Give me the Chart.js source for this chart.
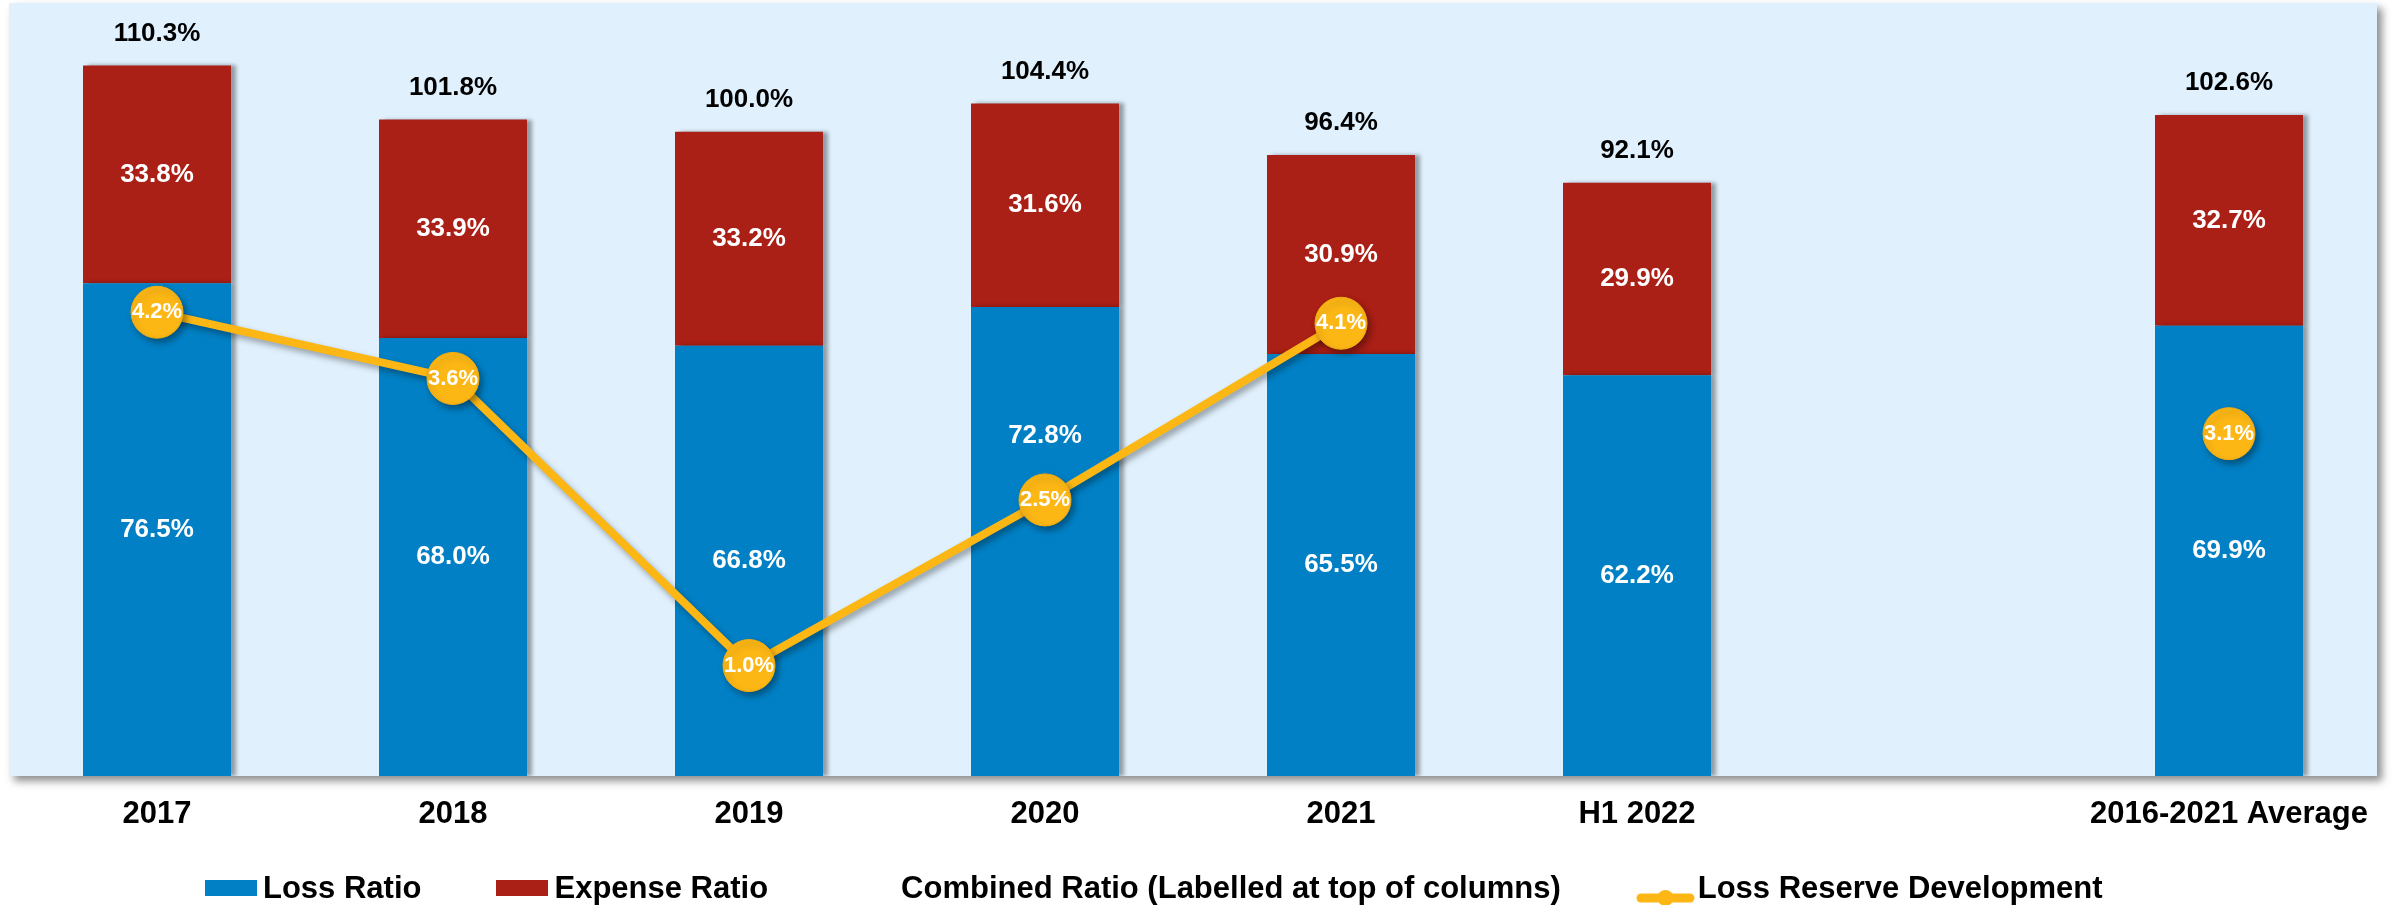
<!DOCTYPE html>
<html lang="en">
<head>
<meta charset="UTF-8">
<title>Combined Ratio</title>
<script src="https://cdn.jsdelivr.net/npm/chart.js@4.4.1/dist/chart.umd.min.js"></script>
<style>
  body { margin: 0; background: #fff; }
  #wrap { position: relative; width: 2397px; height: 905px; }
  #legend {
    position: absolute; left: 205px; top: 870px; height: 36px;
    display: flex; align-items: center; gap: 75px;
    font: bold 31px 'Liberation Sans', Arial, sans-serif; color: #000; white-space: nowrap;
  }
  .item { display: flex; align-items: center; }
  .marker { display: inline-block; width: 52px; height: 16px; margin-right: 6px; }
  .marker.linea { width: 59px; height: 18px; margin-right: 3px; }
</style>
</head>
<body>
<div id="wrap">
  <canvas id="myChart" width="2397" height="905"></canvas>
  <div id="legend"></div>
</div>
<script>
// datos del grafico
const categorias = ['2017', '2018', '2019', '2020', '2021', 'H1 2022', '', '2016-2021 Average'];
const lossRatio = [76.5, 68.0, 66.8, 72.8, 65.5, 62.2, null, 69.9];
const expenseRatio = [33.8, 33.9, 33.2, 31.6, 30.9, 29.9, null, 32.7];
const combinedRatio = [110.3, 101.8, 100.0, 104.4, 96.4, 92.1, null, 102.6];
const reserveDev = [4.2, 3.6, 1.0, 2.5, 4.1, null, null, 3.1];

const AZUL = '#0180C5';
const ROJO = '#AA1F16';
const AMARILLO = '#FCB715';
const FONDO = '#E0F1FD';
const FUENTE = "'Liberation Sans', Arial, sans-serif";

// fondo celeste del area del grafico con sombra
const fondoPlot = {
    id: 'fondoPlot',
    beforeDraw: (chart) => {
        const { ctx, chartArea: a } = chart;
        ctx.save();
        ctx.shadowColor = 'rgba(0, 0, 0, 0.45)';
        ctx.shadowBlur = 8;
        ctx.shadowOffsetX = 5;
        ctx.shadowOffsetY = 5;
        ctx.fillStyle = FONDO;
        ctx.fillRect(a.left, a.top, a.width, a.height);
        ctx.restore();
    }
};

// sombra de barras y linea
const sombras = {
    id: 'sombras',
    beforeDatasetDraw: (chart, args) => {
        const ctx = chart.ctx;
        ctx.save();
        ctx.shadowColor = 'rgba(0, 0, 0, 0.35)';
        if (args.meta.type === 'bar') {
            ctx.shadowBlur = 4;
            ctx.shadowOffsetX = 5;
            ctx.shadowOffsetY = 0;
        } else {
            ctx.shadowBlur = 6;
            ctx.shadowOffsetX = 3;
            ctx.shadowOffsetY = 4;
        }
    },
    afterDatasetDraw: (chart) => {
        chart.ctx.restore();
    }
};

// etiquetas de valores sobre cada elemento
const etiquetas = {
    id: 'etiquetas',
    afterDatasetsDraw: (chart, args, opts) => {
        const ctx = chart.ctx;
        ctx.save();
        ctx.textAlign = 'center';
        ctx.textBaseline = 'middle';
        chart.data.datasets.forEach((ds, i) => {
            const meta = chart.getDatasetMeta(i);
            const ajustes = opts.ajustes[ds.label] || {};
            meta.data.forEach((el, j) => {
                const v = ds.data[j];
                if (v === null || v === undefined) return;
                let y;
                if (meta.type === 'bar') {
                    y = (el.y + el.base) / 2; // centro del segmento
                    ctx.font = `bold 26px ${FUENTE}`;
                    ctx.fillStyle = '#fff';
                } else if (ds.etiqueta === 'arriba') {
                    y = el.y - 32; // total sobre la columna
                    ctx.font = `bold 26px ${FUENTE}`;
                    ctx.fillStyle = '#000';
                } else {
                    y = el.y;
                    ctx.font = `bold 22px ${FUENTE}`;
                    ctx.fillStyle = '#fff';
                }
                ctx.fillText(v.toFixed(1) + '%', el.x, y + (ajustes[j] || 0));
            });
        });
        ctx.restore();
    }
};

const datasets = [
    {
        label: 'Loss Ratio',
        type: 'bar',
        data: lossRatio,
        backgroundColor: AZUL,
        stack: 'ratio',
        order: 2,
    },
    {
        label: 'Expense Ratio',
        type: 'bar',
        data: expenseRatio,
        backgroundColor: ROJO,
        stack: 'ratio',
        order: 2,
    },
    {
        label: 'Combined Ratio (Labelled at top of columns)',
        type: 'line',
        data: combinedRatio,
        showLine: false,
        pointRadius: 0,
        pointHoverRadius: 0,
        stack: 'total',
        etiqueta: 'arriba',
        order: 3,
    },
    {
        label: 'Loss Reserve Development',
        type: 'line',
        data: reserveDev,
        yAxisID: 'y2',
        borderColor: AMARILLO,
        borderWidth: 8,
        pointRadius: 26,
        pointBackgroundColor: AMARILLO,
        pointBorderColor: '#F0AC12',
        pointBorderWidth: 1,
        spanGaps: false,
        order: 1,
    },
];

const config = {
    data: { labels: categorias, datasets },
    options: {
        responsive: false,
        devicePixelRatio: 1,
        animation: false,
        layout: { autoPadding: false, padding: { left: 9, right: 20, top: 3, bottom: 59 } },
        scales: {
            x: {
                stacked: true,
                grid: { display: false, drawTicks: false },
                border: { display: false },
                ticks: {
                    color: '#000',
                    padding: 20,
                    font: { family: FUENTE, size: 31, weight: 'bold' },
                    maxRotation: 0,
                    autoSkip: false,
                },
                afterFit: (scale) => { scale.height = 70; },
            },
            y: { stacked: true, min: 0, max: 120, display: false },
            y2: { min: 0, max: 7, display: false },
        },
        datasets: { bar: { barPercentage: 0.5, categoryPercentage: 1 } },
        plugins: {
            legend: { display: false },
            tooltip: { enabled: false },
            // la etiqueta de 2020 sube para no tapar el punto de la linea
            etiquetas: { ajustes: { 'Loss Ratio': { 3: -106 } } },
        },
    },
    plugins: [fondoPlot, sombras, etiquetas],
};

const myChart = new Chart(document.getElementById('myChart'), config);

// leyenda html a partir de los datasets
const legend = document.getElementById('legend');
myChart.data.datasets.forEach((ds) => {
    const item = document.createElement('div');
    item.className = 'item';
    const marker = document.createElement('span');
    marker.className = 'marker';
    if (ds.type === 'bar') {
        marker.style.background = ds.backgroundColor;
    } else if (ds.showLine !== false) {
        marker.className = 'marker linea';
        marker.innerHTML = `<svg width="59" height="18"><line x1="5" y1="9" x2="54" y2="9" stroke="${ds.borderColor}" stroke-width="9" stroke-linecap="round"/><circle cx="29.5" cy="9" r="8" fill="${ds.borderColor}"/></svg>`;
    }
    const texto = document.createElement('span');
    texto.textContent = ds.label;
    item.appendChild(marker);
    item.appendChild(texto);
    legend.appendChild(item);
});
</script>
</body>
</html>
